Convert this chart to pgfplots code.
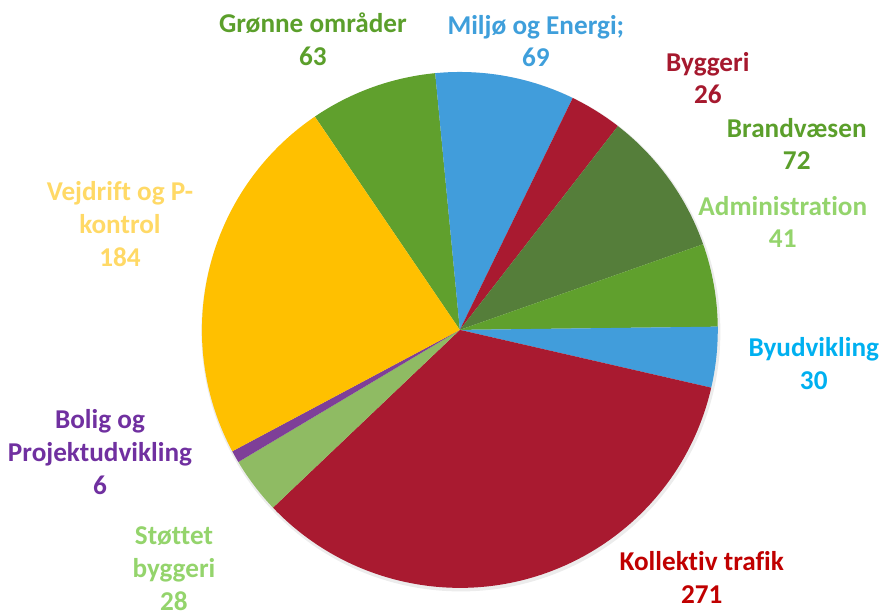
\documentclass[border=0pt]{standalone}
\usepackage{pgfplots}
\pgfplotsset{compat=1.18}
\usepackage{fontspec}
\setmainfont{Carlito}[Ligatures={NoCommon}]
\definecolor{cG}{HTML}{60A02D}
\definecolor{cM}{HTML}{419DDB}
\definecolor{cBy}{HTML}{A91A30}
\definecolor{cBr}{HTML}{557E3A}
\definecolor{cAd}{HTML}{60A02D}
\definecolor{cBu}{HTML}{419DDB}
\definecolor{cK}{HTML}{A91A30}
\definecolor{cS}{HTML}{8FBB63}
\definecolor{cBo}{HTML}{7E3F98}
\definecolor{cV}{HTML}{FFC000}
\definecolor{tG}{HTML}{5B9F2B}
\definecolor{tM}{HTML}{3F9FDB}
\definecolor{tBy}{HTML}{A6192E}
\definecolor{tAd}{HTML}{94D46C}
\definecolor{tBu}{HTML}{00B0F0}
\definecolor{tK}{HTML}{C00000}
\definecolor{tBo}{HTML}{7030A0}
\definecolor{tV}{HTML}{FFD966}
\tikzset{lbl/.style={font=\fontsize{13.6}{16.4}\selectfont\bfseries, align=center, inner sep=0pt}}
\begin{document}
\begin{tikzpicture}
\pgfmathsetmacro\tot{63+69+26+72+41+30+271+28+6+184}
\xdef\cur{124.2}
\gdef\slices{}
\foreach \v/\c in {63/cG,69/cM,26/cBy,72/cBr,41/cAd,30/cBu,271/cK,28/cS,6/cBo,184/cV}{
  \pgfmathsetmacro\nxt{\cur-\v/\tot*360}
  \xdef\slices{\unexpanded\expandafter{\slices}\noexpand\fill[\c] (axis cs:460,285) -- ++(\cur:129pt) arc[start angle=\cur, end angle=\nxt, radius=129pt] -- cycle;}
  \global\let\cur\nxt
}
\begin{axis}[
  hide axis, scale only axis, width=439.5pt, height=307.5pt,
  xmin=0, xmax=879, ymin=0, ymax=615, clip=false]
\addplot[draw=none] coordinates {(0,0) (879,615)};
\fill[black!12, opacity=0.6] (axis cs:461,283) circle[radius=129.8pt];
\slices
\node[lbl, text=tG] at (axis cs:313,576) {Grønne områder\\63};
\node[lbl, text=tM] at (axis cs:536,574) {Miljø og Energi;\\69};
\node[lbl, text=tBy] at (axis cs:708,537) {Byggeri\\26};
\node[lbl, text=tG] at (axis cs:797,471) {Brandvæsen\\72};
\node[lbl, text=tAd] at (axis cs:783,393) {Administration\\41};
\node[lbl, text=tBu] at (axis cs:814,251) {Byudvikling\\30};
\node[lbl, text=tK] at (axis cs:702,37) {Kollektiv trafik\\271};
\node[lbl, text=tAd] at (axis cs:174,46) {Støttet\\byggeri\\28};
\node[lbl, text=tBo] at (axis cs:100,163) {Bolig og\\Projektudvikling\\6};
\node[lbl, text=tV] at (axis cs:120,391) {Vejdrift og P-\\kontrol\\184};
\end{axis}
\end{tikzpicture}
\end{document}
